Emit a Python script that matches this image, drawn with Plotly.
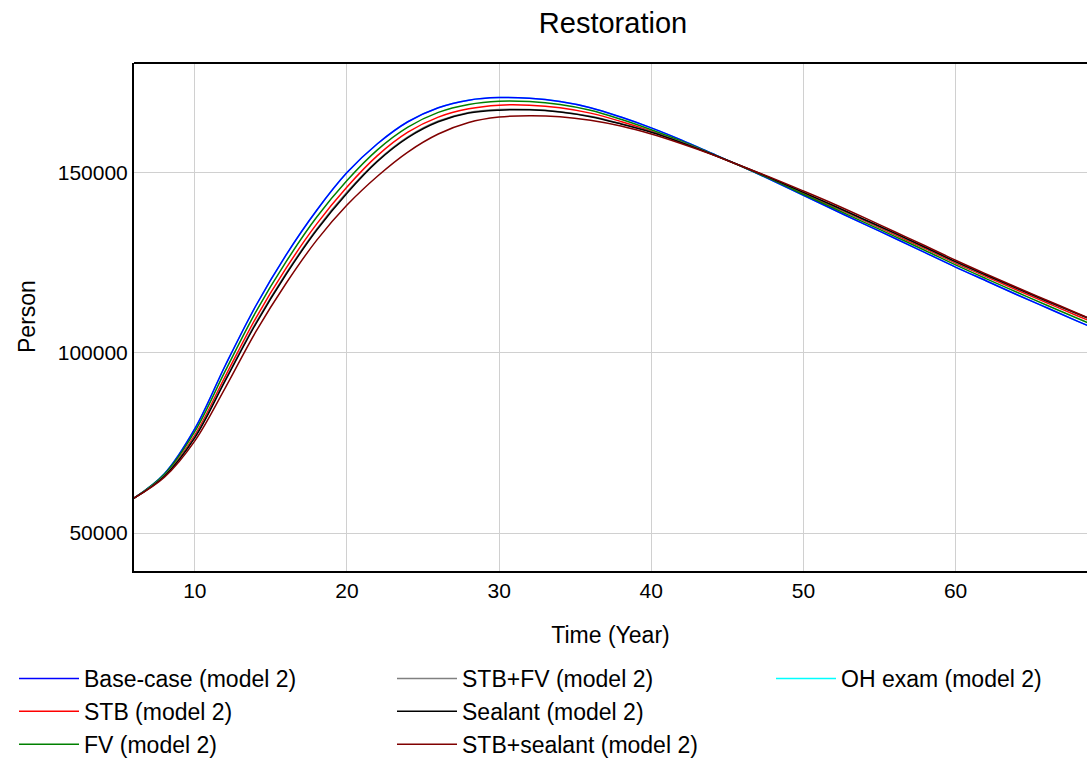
import plotly.graph_objects as go

# ---- data ----
time_year = [6, 8, 10, 12, 14, 16, 18, 20, 22, 24, 26, 28, 30, 32, 34, 36, 38, 40,
             42, 44, 46, 48, 50, 52, 54, 56, 58, 60, 62, 64, 66, 68, 70]

base_case = [59700, 66500, 79000, 96500, 113000, 127200, 139500, 150000, 158000, 164100,
             168000, 170100, 170800, 170600, 169700, 168000, 165400, 162400, 159000, 155300,
             151600, 147700, 143700, 139700, 135700, 131800, 127800, 123800, 120000, 116200,
             112500, 108800, 105200]
stb = [59700, 66000, 77200, 93500, 109600, 123500, 135700, 146000, 154700, 161200,
       165400, 167700, 168700, 168700, 168000, 166500, 164200, 161500, 158400, 155100,
       151600, 148100, 144300, 140500, 136700, 132800, 128900, 124900, 121200, 117500,
       113900, 110300, 106800]
fv = [59700, 66300, 78200, 95000, 111300, 125300, 137600, 147800, 156300, 162600,
      166700, 168900, 169800, 169700, 168900, 167300, 164800, 161900, 158700, 155200,
      151600, 147900, 144000, 140100, 136200, 132300, 128400, 124400, 120600, 116900,
      113200, 109600, 106000]
stb_fv = [59700, 65900, 76700, 92600, 108300, 122100, 134300, 144600, 153300, 159900,
          164300, 166700, 167500, 167500, 166900, 165600, 163600, 161300, 158400, 155100,
          151700, 148200, 144500, 140700, 136900, 133100, 129200, 125200, 121500, 117900,
          114300, 110800, 107300]
sealant = [59700, 65800, 76500, 92300, 108000, 121800, 134000, 144300, 153100, 159700,
           164100, 166500, 167300, 167400, 166800, 165500, 163500, 161200, 158300, 155100,
           151700, 148200, 144500, 140800, 137000, 133200, 129300, 125300, 121600, 118000,
           114400, 110900, 107400]
stb_sealant = [59700, 65500, 75600, 90300, 105800, 119300, 131200, 141000, 149000, 155700,
               160700, 163900, 165400, 165800, 165500, 164500, 162900, 160700, 158000, 155000,
               151700, 148400, 144900, 141300, 137500, 133600, 129700, 125700, 121900, 118200,
               114600, 111000, 107500]
oh_exam = list(base_case)  # hidden under the base-case line in the reference

series_names = ["Base-case (model 2)", "STB (model 2)", "FV (model 2)",
                "STB+FV (model 2)", "Sealant (model 2)", "STB+sealant (model 2)",
                "OH exam (model 2)"]
series_values = [base_case, stb, fv, stb_fv, sealant, stb_sealant, oh_exam]
series_colors = ["#0000ff", "#ff0000", "#008000", "#808080", "#000000", "#800000", "#00ffff"]
series_legend = ["legend", "legend", "legend", "legend2", "legend2", "legend2", "legend3"]

x_ticks = [10, 20, 30, 40, 50, 60]
y_ticks = [50000, 100000, 150000]

FONT = "Liberation Sans, Arial, sans-serif"

fig = go.Figure()
# draw OH exam first so it sits underneath
draw_order = [6, 0, 1, 2, 3, 4, 5]
for i in draw_order:
    fig.add_trace(go.Scatter(
        x=time_year, y=series_values[i], mode="lines", name=series_names[i],
        line=dict(color=series_colors[i], width=1.5, shape="spline", smoothing=1.0),
        legend=series_legend[i], legendrank=i,
    ))

legend_common = dict(
    orientation="v", xref="container", yref="container", yanchor="top", xanchor="left",
    font=dict(family=FONT, size=23, color="black"), itemwidth=60,
    bgcolor="rgba(0,0,0,0)", traceorder="normal", tracegroupgap=0,
)
legend_top = 1 - 657 / 763

fig.update_layout(
    width=1087, height=763,
    margin=dict(l=134, r=0, t=63, b=192, autoexpand=False),
    paper_bgcolor="white", plot_bgcolor="white",
    font=dict(family=FONT, color="black"),
    title=dict(text="Restoration", x=613 / 1087, xref="container", xanchor="center",
               y=1 - 23 / 763, yref="container", yanchor="middle",
               font=dict(family=FONT, size=29, color="black")),
    showlegend=True,
    legend=dict(x=14 / 1087, y=legend_top, **legend_common),
    legend2=dict(x=392 / 1087, y=legend_top, **legend_common),
    legend3=dict(x=771 / 1087, y=legend_top, **legend_common),
    xaxis=dict(
        range=[6, 68.64], tickvals=x_ticks, ticktext=[str(v) for v in x_ticks],
        showgrid=True, gridcolor="#d0d0d0", gridwidth=1, zeroline=False,
        showline=True, linecolor="black", linewidth=2, mirror=False, ticks="",
        tickfont=dict(family=FONT, size=21, color="black"),
        title=dict(text="Time (Year)", font=dict(family=FONT, size=23, color="black"), standoff=26),
    ),
    yaxis=dict(
        range=[39500, 180400], tickvals=y_ticks, ticktext=[str(v) for v in y_ticks],
        showgrid=True, gridcolor="#d0d0d0", gridwidth=1, zeroline=False,
        showline=True, linecolor="black", linewidth=2, mirror=False, ticks="",
        tickfont=dict(family=FONT, size=21, color="black"),
    ),
    annotations=[dict(text="Person", textangle=-90, xref="paper", yref="paper",
                      x=(27 - 134) / 953, y=0.5, xanchor="center", yanchor="middle",
                      showarrow=False, font=dict(family=FONT, size=23, color="black"))],
    shapes=[dict(type="line", xref="paper", yref="paper", x0=0, x1=1, y0=1, y1=1,
                 line=dict(color="black", width=2))],
)

fig.write_html("out.html")
